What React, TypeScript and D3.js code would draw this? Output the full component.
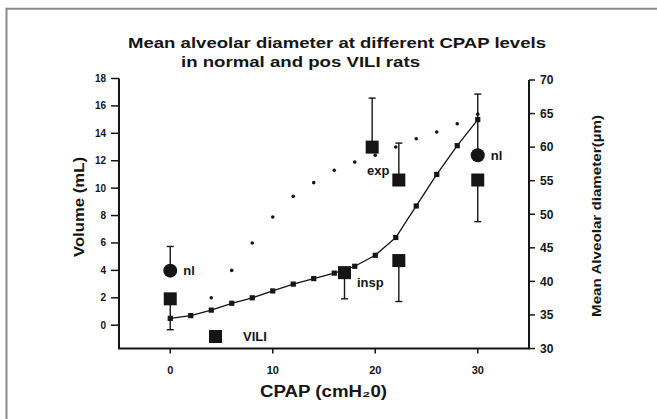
import React from "react";
import * as d3 from "d3";

// Line series (small squares, connected) – Volume (mL)
const lineX = [0, 2, 4, 6, 8, 10, 12, 14, 16, 18, 20, 22, 24, 26, 28, 30];
const lineY = [0.5, 0.7, 1.1, 1.6, 2.0, 2.5, 3.0, 3.4, 3.8, 4.3, 5.1, 6.4, 8.7, 11.0, 13.1, 15.0];

// Dotted series (unconnected small dots) – Volume (mL)
const dotX = [4, 6, 8, 10, 12, 14, 16, 18, 20, 22, 24, 26, 28, 30];
const dotY = [2.0, 4.0, 6.0, 7.9, 9.4, 10.4, 11.3, 11.9, 12.4, 13.0, 13.6, 14.1, 14.7, 15.4];

// VILI squares – Mean alveolar diameter (µm), with one-sided error bar end
const sqX = [0, 17, 19.7, 22.3, 22.3, 30];
const sqY = [37.4, 41.3, 60.0, 55.1, 43.1, 55.1];
const sqErr = [32.8, 37.4, 67.3, 60.6, 37.0, 48.9];

// normal circles – Mean alveolar diameter (µm)
const ciX = [0, 30];
const ciY = [41.6, 58.8];
const ciErr = [45.2, 67.9];

const xTicks = [0, 10, 20, 30];
const yLTicks = [0, 2, 4, 6, 8, 10, 12, 14, 16, 18];
const yRTicks = [30, 35, 40, 45, 50, 55, 60, 65, 70];

const title1 = "Mean alveolar diameter at different CPAP levels";
const title2 = "in normal and pos VILI rats";
const xLabel = "CPAP (cmH\u20820)";
const yLLabel = "Volume (mL)";
const yRLabel = "Mean Alveolar diameter(\u00b5m)";

const INK = "#151515";
const FONT = "'Liberation Sans', Arial, Helvetica, sans-serif";

export default function App() {
  const W = 657;
  const H = 419;
  const x = d3.scaleLinear().domain([-5, 35]).range([119, 529]);
  const yL = d3.scaleLinear().domain([-1.7, 18]).range([348.5, 78.5]);
  const yR = d3.scaleLinear().domain([30, 70]).range([348.5, 80]);

  const line = d3
    .line<number>()
    .x((_, i) => x(lineX[i]))
    .y((d) => yL(d));

  const sq = 13;
  const cap = 3.5;

  return (
    <svg
      width={W}
      height={H}
      style={{ position: "absolute", left: 0, top: 0, background: "#fff" }}
      fontFamily={FONT}
    >
      <rect x={0} y={0} width={W} height={H} fill="#fff" />
      {/* frame */}
      <path d={`M6.5,${H + 2} V8.8 H${W + 2}`} fill="none" stroke="#8a8a8a" strokeWidth={2} />

      {/* titles */}
      <text x={128} y={48} fontSize={15} fontWeight={700} fill={INK} textLength={418} lengthAdjust="spacingAndGlyphs">
        {title1}
      </text>
      <text x={181} y={67} fontSize={15} fontWeight={700} fill={INK} textLength={239} lengthAdjust="spacingAndGlyphs">
        {title2}
      </text>

      {/* axes lines */}
      <path
        d={`M${x(-5)},${yL(18)} V${yL(-1.7)} H${x(35)} V${yR(70)}`}
        fill="none"
        stroke={INK}
        strokeWidth={2}
      />

      {/* left ticks */}
      {yLTicks.map((t) => (
        <g key={"l" + t}>
          <line x1={x(-5) - 8} x2={x(-5)} y1={yL(t)} y2={yL(t)} stroke={INK} strokeWidth={1.5} />
          <text x={x(-5) - 13} y={yL(t)} dy="0.35em" textAnchor="end" fontSize={10} fontWeight={700} fill={INK}>
            {t}
          </text>
        </g>
      ))}

      {/* right ticks */}
      {yRTicks.map((t) => (
        <g key={"r" + t}>
          <line x1={x(35)} x2={x(35) + 6} y1={yR(t)} y2={yR(t)} stroke={INK} strokeWidth={1.5} />
          <text x={x(35) + 11} y={yR(t)} dy="0.36em" textAnchor="start" fontSize={12} fontWeight={700} fill={INK}>
            {t}
          </text>
        </g>
      ))}

      {/* bottom ticks */}
      {xTicks.map((t) => (
        <g key={"b" + t}>
          <line x1={x(t)} x2={x(t)} y1={yL(-1.7)} y2={yL(-1.7) + 5} stroke={INK} strokeWidth={1.5} />
          <text x={x(t)} y={yL(-1.7) + 22} dy="0.35em" textAnchor="middle" fontSize={11} fontWeight={700} fill={INK}>
            {t}
          </text>
        </g>
      ))}

      {/* axis labels */}
      <text x={260} y={397} fontSize={16} fontWeight={700} fill={INK} textLength={127} lengthAdjust="spacingAndGlyphs">
        {xLabel}
      </text>
      <text
        transform={`translate(84,207) rotate(-90)`}
        textAnchor="middle"
        fontSize={14}
        fontWeight={700}
        fill={INK}
        textLength={100}
        lengthAdjust="spacingAndGlyphs"
      >
        {yLLabel}
      </text>
      <text
        transform={`translate(601,216) rotate(-90)`}
        textAnchor="middle"
        fontSize={12}
        fontWeight={700}
        fill={INK}
        textLength={202}
        lengthAdjust="spacingAndGlyphs"
      >
        {yRLabel}
      </text>

      {/* dotted series */}
      {dotY.map((v, i) => (
        <circle key={"d" + i} cx={x(dotX[i])} cy={yL(v)} r={1.8} fill={INK} />
      ))}

      {/* error bars */}
      {sqY.map((v, i) => (
        <g key={"se" + i} stroke={INK} strokeWidth={1.4}>
          <line x1={x(sqX[i])} x2={x(sqX[i])} y1={yR(v)} y2={yR(sqErr[i])} />
          <line x1={x(sqX[i]) - cap} x2={x(sqX[i]) + cap} y1={yR(sqErr[i])} y2={yR(sqErr[i])} />
        </g>
      ))}
      {ciY.map((v, i) => (
        <g key={"ce" + i} stroke={INK} strokeWidth={1.4}>
          <line x1={x(ciX[i])} x2={x(ciX[i])} y1={yR(v)} y2={yR(ciErr[i])} />
          <line x1={x(ciX[i]) - cap} x2={x(ciX[i]) + cap} y1={yR(ciErr[i])} y2={yR(ciErr[i])} />
        </g>
      ))}

      {/* connected line */}
      <path d={line(lineY) || ""} fill="none" stroke={INK} strokeWidth={1.3} />
      {lineY.map((v, i) => (
        <rect key={"ls" + i} x={x(lineX[i]) - 2.6} y={yL(v) - 2.6} width={5.2} height={5.2} fill={INK} />
      ))}

      {/* big markers */}
      {sqY.map((v, i) => (
        <rect key={"sq" + i} x={x(sqX[i]) - sq / 2} y={yR(v) - sq / 2} width={sq} height={sq} fill={INK} />
      ))}
      {ciY.map((v, i) => (
        <circle key={"ci" + i} cx={x(ciX[i])} cy={yR(v)} r={7} fill={INK} />
      ))}

      {/* point labels */}
      <g fontSize={13} fontWeight={700} fill={INK}>
        <text x={x(ciX[0]) + 13} y={yR(ciY[0])} dy="0.35em">nl</text>
        <text x={x(ciX[1]) + 13} y={yR(ciY[1])} dy="0.35em">nl</text>
        <text x={367} y={yR(sqY[3]) - 10} dy="0.35em">exp</text>
        <text x={357} y={yR(sqY[1]) + 10} dy="0.35em">insp</text>
        <rect x={209} y={330} width={sq} height={sq} fill={INK} />
        <text x={243} y={336} dy="0.35em">VILI</text>
      </g>
    </svg>
  );
}
